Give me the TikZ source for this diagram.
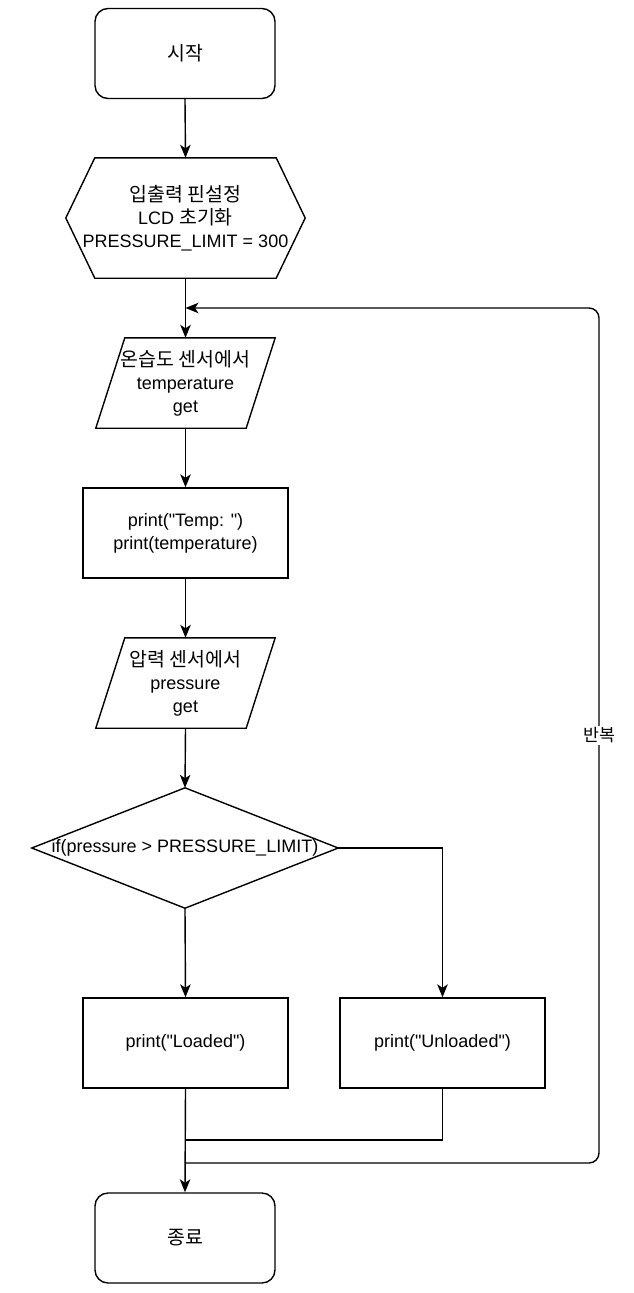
\documentclass[tikz,border=0pt]{standalone}
\usepackage{fontspec}
\setmainfont{Liberation Sans}[Ligatures=TeXOff]
\newfontfamily\kr{Noto Sans CJK KR}[Scale=1.08]
\usetikzlibrary{arrows.meta,calc}
\begin{document}
\begin{tikzpicture}[x=1pt,y=-1pt,
  every node/.style={font=\fontsize{18}{23}\selectfont, align=center, inner sep=0pt},
  proc/.style={draw, line width=1.4pt, minimum width=205pt, minimum height=90pt},
  term/.style={draw, line width=1.4pt, rounded corners=13pt, minimum width=180pt, minimum height=90pt},
  ghost/.style={minimum width=180pt, minimum height=90pt},
  outline/.style={draw, line width=1.4pt, line join=miter},
  arr/.style={line width=1.4pt, -{Stealth[length=13pt,width=10.5pt,inset=3.5pt]}},
  ln/.style={line width=1.4pt},
  lbl/.style={font=\kr\fontsize{16}{18}\selectfont, fill=white, inner sep=2pt}]
\useasboundingbox (0,0) rectangle (633,1293);

\node[term] (start) at (185,53.5) {\kr 시작};

\node[ghost, minimum width=239pt, minimum height=120pt] (init) at (185.5,218)
  {{\kr 입출력 핀설정}\\LCD {\kr 초기화}\\PRESSURE\_LIMIT = 300};
\draw[outline] (init.west) -- ([xshift=29pt]init.north west) -- ([xshift=-29pt]init.north east)
  -- (init.east) -- ([xshift=-29pt]init.south east) -- ([xshift=29pt]init.south west) -- cycle;

\node[ghost, minimum width=179pt] (p1) at (185.5,383)
  {{\kr 온습도 센서에서}\\temperature\\get};
\draw[outline] ([xshift=29pt]p1.north west) -- (p1.north east) -- ([xshift=-29pt]p1.south east)
  -- (p1.south west) -- cycle;

\node[proc] (temp) at (185.5,533) {print("Temp: ")\\print(temperature)};

\node[ghost, minimum width=179pt] (p2) at (185.5,683)
  {{\kr 압력 센서에서}\\pressure\\get};
\draw[outline] ([xshift=29pt]p2.north west) -- (p2.north east) -- ([xshift=-29pt]p2.south east)
  -- (p2.south west) -- cycle;

\node[ghost, minimum width=306pt, minimum height=120pt] (dia) at (185,848)
  {if(pressure > PRESSURE\_LIMIT)};
\draw[outline] (dia.west) -- (dia.north) -- (dia.east) -- (dia.south) -- cycle;

\node[proc] (loaded) at (185.5,1043) {print("Loaded")};
\node[proc] (unloaded) at (442.5,1043) {print("Unloaded")};

\node[term] (end) at (185,1238) {\kr 종료};

\coordinate (merge) at (185.5,1140);
\coordinate (loopstart) at (185.5,1163);
\coordinate (c1) at (599,1163);
\coordinate (c2) at (599,308);
\coordinate (loopin) at (185.5,308);

\draw[arr] (start.south) -- (init.north);
\draw[arr] (init.south) -- (p1.north);
\draw[arr] (p1.south) -- (temp.north);
\draw[arr] (temp.south) -- (p2.north);
\draw[arr] (p2.south) -- (dia.north);
\draw[arr] (dia.south) -- (loaded.north);
\draw[arr] (dia.east) -| (unloaded.north);
\draw[arr] (loaded.south) -- (end.north);
\draw[ln] (unloaded.south) |- (merge);
\draw[arr, rounded corners=10pt] (loopstart) -- (c1) -- (c2) -- (loopin);
\node[lbl] (rep) at ($(c1)!0.5!(c2)$) {반복};
\end{tikzpicture}
\end{document}
